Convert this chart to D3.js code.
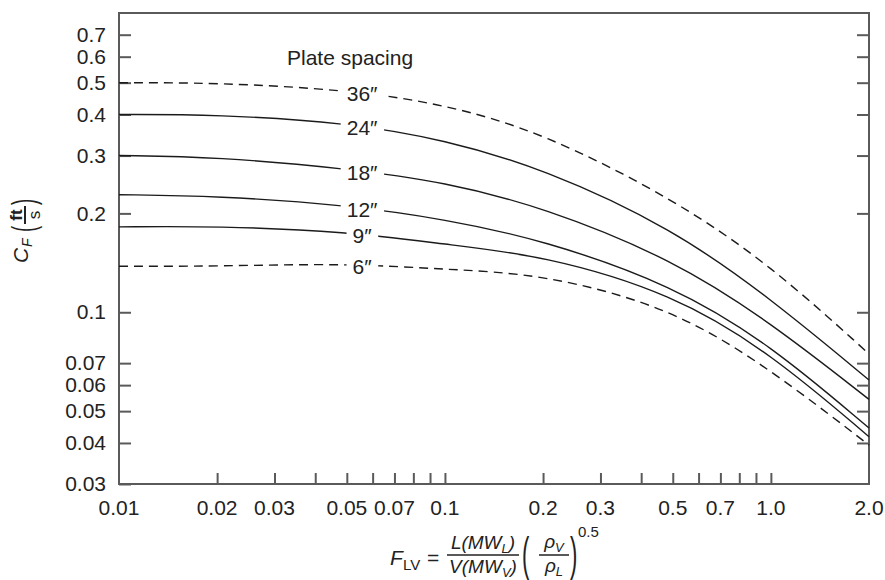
<!DOCTYPE html>
<html>
<head>
<meta charset="utf-8">
<script src="https://cdn.jsdelivr.net/npm/d3@7"></script>
<style>
  body { margin: 0; background: #fff; }
  svg text { font-family: "Liberation Sans", Arial, Helvetica, sans-serif; fill: #222; }
  .axis text { font-size: 21px; }
</style>
</head>
<body>
<svg id="chart" width="885" height="580" viewBox="0 0 885 580"></svg>
<script>
// flow parameter values where the curves were read
const flv = [0.01, 0.02, 0.05, 0.1, 0.2, 0.5, 1.0, 2.0];

// C_F (ft/s) for each plate spacing
const cf36 = [0.50, 0.50, 0.476, 0.43, 0.352, 0.222, 0.139, 0.0747];
const cf24 = [0.40, 0.40, 0.378, 0.335, 0.274, 0.180, 0.110, 0.0622];
const cf18 = [0.30, 0.297, 0.274, 0.249, 0.209, 0.145, 0.093, 0.0543];
const cf12 = [0.228, 0.226, 0.212, 0.192, 0.166, 0.121, 0.0795, 0.0444];
const cf9  = [0.182, 0.183, 0.176, 0.161, 0.149, 0.114, 0.075, 0.0418];
const cf6  = [0.138, 0.138, 0.141, 0.135, 0.131, 0.103, 0.067, 0.0394];

const spacings = ["36″", "24″", "18″", "12″", "9″", "6″"];

// axis ticks
const yTicks = [0.03, 0.04, 0.05, 0.06, 0.07, 0.1, 0.2, 0.3, 0.4, 0.5, 0.6, 0.7];
const xTicks = [0.02, 0.03, 0.04, 0.05, 0.06, 0.07, 0.08, 0.09,
                0.1, 0.2, 0.3, 0.4, 0.5, 0.6, 0.7, 0.8, 0.9, 1.0];
const xLabels = ["0.01", "0.02", "0.03", "0.05", "0.07", "0.1",
                 "0.2", "0.3", "0.5", "0.7", "1.0", "2.0"];

const svg = d3.select("#chart");
const plotLeft = 119, plotRight = 869, plotTop = 13, plotBottom = 484;
const axisColor = "#5a5a5a";

const x = d3.scaleLog().domain([0.01, 2]).range([plotLeft, plotRight]);
const y = d3.scaleLog().domain([0.03, 0.815]).range([plotBottom, plotTop]);

// axes (ticks point inward)
const gLeft = svg.append("g").attr("class", "axis")
    .attr("transform", `translate(${plotLeft},0)`)
    .call(d3.axisLeft(y).tickValues(yTicks).tickFormat(d => String(d))
        .tickSize(-12).tickSizeOuter(0).tickPadding(13));

const gRight = svg.append("g").attr("class", "axis")
    .attr("transform", `translate(${plotRight},0)`)
    .call(d3.axisRight(y).tickValues(yTicks.slice(1)).tickFormat("")
        .tickSize(-12).tickSizeOuter(0));

const gBottom = svg.append("g").attr("class", "axis")
    .attr("transform", `translate(0,${plotBottom})`)
    .call(d3.axisBottom(x).tickValues(xTicks).tickFormat("")
        .tickSize(-11).tickSizeOuter(0));

// labels on the bottom axis (only some values)
gBottom.selectAll(".xlab")
    .data(xLabels)
    .enter()
    .append("text")
    .attr("class", "xlab")
    .attr("x", d => x(+d))
    .attr("y", 31)
    .attr("text-anchor", "middle")
    .text(d => d);

[gLeft, gRight, gBottom].forEach(g => {
    g.select(".domain").remove();
    g.selectAll(".tick line").attr("stroke", axisColor).attr("stroke-width", 2);
    g.selectAll("text").attr("fill", "#222");
});

// frame
svg.append("rect")
    .attr("x", plotLeft).attr("y", plotTop)
    .attr("width", plotRight - plotLeft).attr("height", plotBottom - plotTop)
    .attr("fill", "none")
    .attr("stroke", axisColor)
    .attr("stroke-width", 2);

// curves
const series = [cf36, cf24, cf18, cf12, cf9, cf6].map((v, i) => ({
    label: spacings[i],
    values: v,
    dashed: i === 0 || i === 5
}));

const line = d3.line()
    .x((d, i) => x(flv[i]))
    .y(d => y(d))
    .curve(d3.curveBasis);

const curves = svg.append("g");
curves.selectAll("path")
    .data(series)
    .enter()
    .append("path")
    .attr("d", d => line(d.values))
    .attr("fill", "none")
    .attr("stroke", "#1b1b1b")
    .attr("stroke-width", 1.4)
    .attr("stroke-dasharray", d => d.dashed ? "9,6" : null);

// curve labels sit on the curves, breaking them
const labelAt = 0.0557;
function yOnCurve(values, v) {
    const lx = Math.log10(v);
    for (let i = 0; i < flv.length - 1; i++) {
        const a = Math.log10(flv[i]), b = Math.log10(flv[i + 1]);
        if (lx >= a && lx <= b) {
            const t = (lx - a) / (b - a);
            return y(values[i]) + t * (y(values[i + 1]) - y(values[i]));
        }
    }
    return y(values[0]);
}

series.forEach(s => {
    const cy = yOnCurve(s.values, labelAt) + 2;
    const g = svg.append("g");
    const rect = g.append("rect").attr("fill", "#fff");
    const t = g.append("text")
        .attr("x", x(labelAt))
        .attr("y", cy)
        .attr("dy", "0.35em")
        .attr("text-anchor", "middle")
        .attr("font-size", 21)
        .text(s.label);
    const bb = t.node().getBBox();
    rect.attr("x", bb.x - 6).attr("y", bb.y + 2)
        .attr("width", bb.width + 12).attr("height", bb.height - 4);
});

svg.append("text")
    .attr("x", 287).attr("y", 65)
    .attr("font-size", 21)
    .text("Plate spacing");

// y-axis title: C_F (ft/s), rotated
const yt = svg.append("g").attr("transform", "translate(28,232) rotate(-90)");
yt.append("text").attr("x", -31).attr("y", 0)
    .attr("font-size", 21).attr("font-style", "italic").text("C");
yt.append("text").attr("x", -15).attr("y", 4)
    .attr("font-size", 14).attr("font-style", "italic").text("F");
yt.append("text").attr("transform", "translate(0,7) scale(0.55,1)")
    .attr("font-size", 34).text("(");
yt.append("text").attr("transform", "translate(27,7) scale(0.55,1)")
    .attr("font-size", 34).text(")");
yt.append("line").attr("x1", 8).attr("x2", 26).attr("y1", -3).attr("y2", -3)
    .attr("stroke", "#222").attr("stroke-width", 2);
yt.append("text").attr("x", 17).attr("y", -6).attr("text-anchor", "middle")
    .attr("font-size", 17).attr("font-weight", "bold").text("ft");
yt.append("text").attr("x", 17).attr("y", 12).attr("text-anchor", "middle")
    .attr("font-size", 17).text("s");

// x-axis title: F_LV = L(MW_L)/V(MW_V) (rho_V/rho_L)^0.5
const xt = svg.append("g").attr("transform", "translate(0,-4)");
xt.append("text").attr("x", 390).attr("y", 569)
    .attr("font-size", 21).attr("font-style", "italic").text("F");
xt.append("text").attr("x", 403).attr("y", 574)
    .attr("font-size", 15).text("LV");
xt.append("text").attr("x", 427).attr("y", 569)
    .attr("font-size", 21).text("=");

function fracPart(cx, by, main, sub) {
    const t = xt.append("text").attr("x", cx).attr("y", by)
        .attr("text-anchor", "middle").attr("font-size", 19).attr("font-style", "italic");
    t.append("tspan").text(main);
    t.append("tspan").attr("font-size", 13).attr("dy", 4).text(sub);
    if (main.indexOf("(") >= 0) t.append("tspan").attr("dy", -4).text(")");
}
fracPart(483, 553, "L(MW", "L");
fracPart(483, 577, "V(MW", "V");
xt.append("line").attr("x1", 447).attr("x2", 519).attr("y1", 559).attr("y2", 559)
    .attr("stroke", "#222").attr("stroke-width", 1.5);

xt.append("text").attr("transform", "translate(522,574) scale(0.48,1)")
    .attr("font-size", 46).text("(");
fracPart(554, 552, "ρ", "V");
fracPart(554, 576, "ρ", "L");
xt.append("line").attr("x1", 539).attr("x2", 569).attr("y1", 559).attr("y2", 559)
    .attr("stroke", "#222").attr("stroke-width", 1.5);
xt.append("text").attr("transform", "translate(570,574) scale(0.48,1)")
    .attr("font-size", 46).text(")");
xt.append("text").attr("x", 578).attr("y", 541)
    .attr("font-size", 15).text("0.5");
</script>
</body>
</html>
